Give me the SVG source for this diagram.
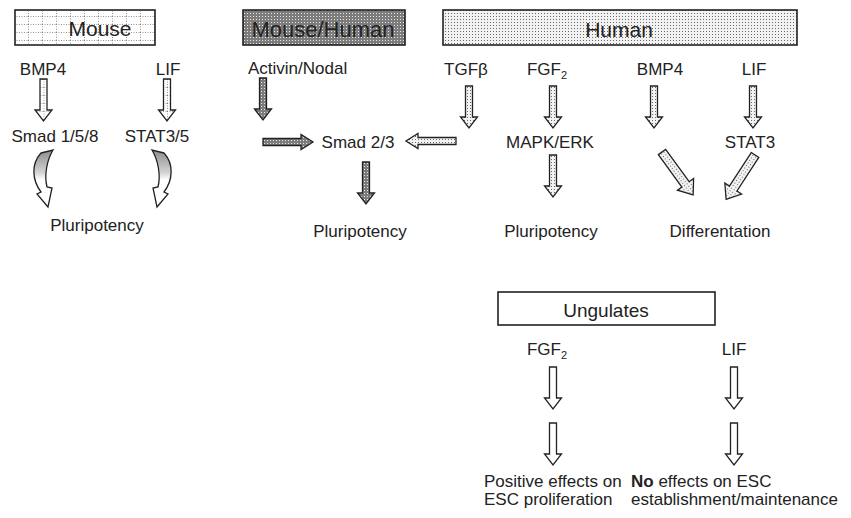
<svg xmlns="http://www.w3.org/2000/svg" width="851" height="518" viewBox="0 0 851 518">
<style>
text{font-family:"Liberation Sans",Arial,sans-serif;fill:#222}
.t{font-size:21px;text-anchor:middle}
.l{font-size:17px;text-anchor:middle}
.s{font-size:17px}
.box{stroke:#222;stroke-width:1.6}
.ar{stroke:#222;stroke-width:1.3;stroke-linejoin:miter}
</style>
<defs>
<pattern id="grid" width="14" height="8" patternUnits="userSpaceOnUse">
<rect width="14" height="8" fill="#fff"/>
<path d="M0.5,0V8M0,0.5H14" stroke="#777" stroke-width="0.8" stroke-dasharray="1,1.5" fill="none"/>
</pattern>
<pattern id="dark" width="3" height="3" patternUnits="userSpaceOnUse">
<rect width="3" height="3" fill="#7c7c7c"/>
<rect x="1" y="1" width="1" height="1" fill="#e8e8e8"/>
</pattern>
<pattern id="light" width="3" height="3" patternUnits="userSpaceOnUse">
<rect width="3" height="3" fill="#f2f2f2"/>
<rect x="1" y="1" width="1" height="1" fill="#6a6a6a"/>
</pattern>
<linearGradient id="curve" x1="0" y1="0" x2="0" y2="1">
<stop offset="0" stop-color="#8c8c8c"/>
<stop offset="0.4" stop-color="#d4d4d4"/>
<stop offset="0.52" stop-color="#fff"/>
<stop offset="1" stop-color="#fff"/>
</linearGradient>
<path id="down" d="M-3.5,0H3.5V31H8.5L0,42L-8.5,31H-3.5Z"/>
<path id="horiz" d="M0,-3.5H38V-7.5L50,0L38,7.5V3.5H0Z"/>
<path id="diag" d="M-4.5,0H4.5V40H10L0,53L-10,40H-4.5Z"/>
<path id="curl" d="M41,153L53,150C47,160 44,175 47,187L52,188L48,207L37,194L41,192C32,180 31,164 41,153Z"/>
</defs>

<g id="mouse">
<rect class="box" x="15" y="10" width="140" height="35" fill="url(#grid)"/>
<text class="t" x="100" y="36">Mouse</text>
</g>
<g id="mouse-human">
<rect class="box" x="243" y="10" width="162" height="35" fill="url(#dark)"/>
<text class="t" x="323" y="37" style="font-size:22px">Mouse/Human</text>
</g>
<g id="human">
<rect class="box" x="443" y="10" width="354" height="35" fill="url(#light)"/>
<text class="t" x="619" y="37">Human</text>
</g>
<g id="ungulates">
<rect class="box" x="498" y="292" width="217" height="33" fill="#fff"/>
<text class="t" x="606" y="317" style="font-size:19px">Ungulates</text>
</g>

<g id="labels">
<text class="l" x="43" y="75">BMP4</text>
<text class="l" x="168" y="75">LIF</text>
<text class="l" x="55" y="142">Smad 1/5/8</text>
<text class="l" x="157" y="142">STAT3/5</text>
<text class="l" x="97" y="231">Pluripotency</text>
<text class="s" x="248" y="74">Activin/Nodal</text>
<text class="l" x="358" y="148">Smad 2/3</text>
<text class="l" x="360" y="237">Pluripotency</text>
<text class="l" x="466" y="75">TGFβ</text>
<text class="l" x="547" y="75">FGF<tspan font-size="11" dy="4">2</tspan></text>
<text class="l" x="550" y="148">MAPK/ERK</text>
<text class="l" x="551" y="237">Pluripotency</text>
<text class="l" x="660" y="75">BMP4</text>
<text class="l" x="754" y="75">LIF</text>
<text class="l" x="750" y="148">STAT3</text>
<text class="l" x="720" y="237">Differentation</text>
<text class="l" x="547" y="355">FGF<tspan font-size="11" dy="4">2</tspan></text>
<text class="l" x="734" y="355">LIF</text>
<text class="s" x="484" y="487">Positive effects on</text>
<text class="s" x="484" y="505">ESC proliferation</text>
<text class="s" x="631" y="487"><tspan font-weight="bold">No</tspan> effects on ESC</text>
<text class="s" x="631" y="505">establishment/maintenance</text>
</g>

<g id="connectors">
<use href="#down" class="ar" fill="url(#grid)" transform="translate(43.5,79)"/>
<use href="#down" class="ar" fill="url(#grid)" transform="translate(167,79)"/>
<use href="#curl" class="ar" fill="url(#curve)"/>
<use href="#curl" class="ar" fill="url(#curve)" transform="translate(205,0) scale(-1,1)"/>
<use href="#down" class="ar" fill="url(#dark)" transform="translate(263,78)"/>
<use href="#horiz" class="ar" fill="url(#dark)" transform="translate(263,142)"/>
<use href="#down" class="ar" fill="url(#dark)" transform="translate(366,162)"/>
<use href="#down" class="ar" fill="url(#light)" transform="translate(469,86)"/>
<use href="#horiz" class="ar" fill="url(#light)" transform="translate(456,141) scale(-1,1)"/>
<use href="#down" class="ar" fill="url(#light)" transform="translate(553,86)"/>
<use href="#down" class="ar" fill="url(#light)" transform="translate(553,155)"/>
<use href="#down" class="ar" fill="url(#light)" transform="translate(654,86)"/>
<use href="#down" class="ar" fill="url(#light)" transform="translate(753,86)"/>
<use href="#diag" class="ar" fill="url(#light)" transform="translate(662,152) rotate(-36)"/>
<use href="#diag" class="ar" fill="url(#light)" transform="translate(755,155) rotate(33)"/>
<use href="#down" class="ar" fill="#fff" transform="translate(553,367)"/>
<use href="#down" class="ar" fill="#fff" transform="translate(553,423)"/>
<use href="#down" class="ar" fill="#fff" transform="translate(734,367)"/>
<use href="#down" class="ar" fill="#fff" transform="translate(734,423)"/>
</g>
</svg>
